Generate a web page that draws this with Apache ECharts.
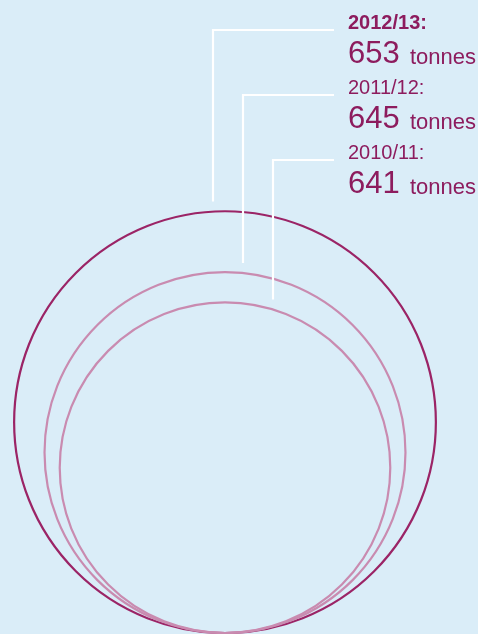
<!DOCTYPE html>
<html>
<head>
<meta charset="utf-8">
<style>
html, body { margin: 0; padding: 0; background: #daedf8; }
#chart { width: 478px; height: 634px; }
</style>
<script src="https://cdn.jsdelivr.net/npm/echarts@6/dist/echarts.min.js"></script>
</head>
<body>
<div id="chart"></div>
<script>
// data, largest first
var years = ['2012/13:', '2011/12:', '2010/11:'];
var tonnes = [653, 645, 641];
var unit = 'tonnes';

var dark = '#9b2466';
var light = '#c98bb0';
var textColor = '#8d1c5e';
var font = '"Liberation Sans", Arial, sans-serif';

// y axis maps tonnage to the top of each circle, every circle sits on the axis min
var yMin = 597.5;
var yMax = 680.8;

var chart = echarts.init(document.getElementById('chart'));

function renderItem(params, api) {
    var i = params.dataIndex;
    var top = api.coord([api.value(0), api.value(1)]);
    var bottom = api.coord([api.value(0), yMin]);
    var cx = top[0];
    var r = (bottom[1] - top[1]) / 2;
    var cy = top[1] + r;

    // leader line: up from the circle, then right to the label
    var lineX = cx - 12 + 30 * i;
    var dx = lineX - cx;
    var hitY = cy - Math.sqrt(r * r - dx * dx);
    var rowY = 30 + 65 * i;
    var textX = 348;

    return {
        type: 'group',
        children: [
            {
                type: 'circle',
                shape: { cx: cx, cy: cy, r: r },
                style: { fill: 'none', stroke: i === 0 ? dark : light, lineWidth: 2.2 }
            },
            {
                type: 'polyline',
                shape: { points: [[lineX, hitY - 10], [lineX, rowY], [334, rowY]] },
                style: { fill: null, stroke: '#ffffff', lineWidth: 2.2 }
            },
            {
                type: 'text',
                x: textX,
                y: rowY - 6.5,
                style: {
                    text: years[i],
                    fill: textColor,
                    font: (i === 0 ? 'bold ' : '') + '20px ' + font,
                    verticalAlign: 'middle'
                }
            },
            {
                type: 'text',
                x: textX,
                y: rowY + 24.5,
                style: {
                    text: String(api.value(1)),
                    fill: textColor,
                    font: '31px ' + font,
                    verticalAlign: 'middle'
                }
            },
            {
                type: 'text',
                x: 410,
                y: rowY + 27.5,
                style: {
                    text: unit,
                    fill: textColor,
                    font: '22px ' + font,
                    verticalAlign: 'middle'
                }
            }
        ]
    };
}

var option = {
    backgroundColor: '#daedf8',
    animation: false,
    grid: { left: 0, top: 0, width: 450, height: 633 },
    xAxis: { type: 'value', min: 0, max: 1, show: false },
    yAxis: { type: 'value', min: yMin, max: yMax, show: false },
    series: [{
        type: 'custom',
        clip: false,
        renderItem: renderItem,
        data: tonnes.map(function (v) { return [0.5, v]; })
    }]
};

chart.setOption(option);
</script>
</body>
</html>
